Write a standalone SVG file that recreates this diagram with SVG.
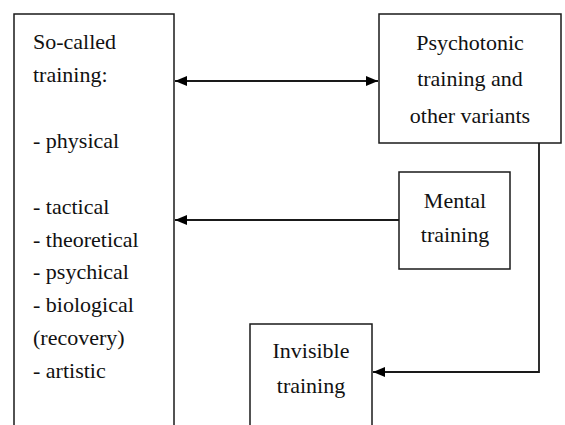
<svg xmlns="http://www.w3.org/2000/svg" width="565" height="425" viewBox="0 0 565 425">
<defs>
<style>
.box{fill:#fff;stroke:#1a1a1a;stroke-width:1.5}
.t{font-size:22px;fill:#111}
.c{text-anchor:middle}
.ln{fill:none;stroke:#1a1a1a;stroke-width:1.8}
</style>
<marker id="ah" viewBox="0 0 12 10" refX="12" refY="5" markerWidth="12" markerHeight="10" markerUnits="userSpaceOnUse" orient="auto-start-reverse">
<path d="M0,0 L12,5 L0,10 Z" fill="#000"/>
</marker>
</defs>
<rect width="565" height="425" fill="#fff"/>
<g font-family="Liberation Serif, Times New Roman, serif">
<g id="so-called">
<rect class="box" x="14" y="14" width="160" height="430"/>
<text class="t" x="33" y="49">So-called</text>
<text class="t" x="33" y="82">training:</text>
<text class="t" x="33" y="148">- physical</text>
<text class="t" x="33" y="214">- tactical</text>
<text class="t" x="33" y="247">- theoretical</text>
<text class="t" x="33" y="279">- psychical</text>
<text class="t" x="33" y="312">- biological</text>
<text class="t" x="33" y="345">(recovery)</text>
<text class="t" x="33" y="378">- artistic</text>
</g>
<g id="psychotonic">
<rect class="box" x="379" y="14" width="182" height="129"/>
<text class="t c" x="470" y="50">Psychotonic</text>
<text class="t c" x="470" y="86">training and</text>
<text class="t c" x="470" y="123">other variants</text>
</g>
<g id="mental">
<rect class="box" x="399" y="172" width="111" height="97"/>
<text class="t c" x="455" y="208">Mental</text>
<text class="t c" x="455" y="242">training</text>
</g>
<g id="invisible">
<rect class="box" x="250" y="324" width="122" height="120"/>
<text class="t c" x="311" y="358">Invisible</text>
<text class="t c" x="311" y="393">training</text>
</g>
</g>
<g id="connectors">
<line class="ln" x1="175" y1="81" x2="378" y2="81" marker-start="url(#ah)" marker-end="url(#ah)"/>
<line class="ln" x1="399" y1="220" x2="175" y2="220" marker-end="url(#ah)"/>
<polyline class="ln" points="539,143 539,372 373,372" marker-end="url(#ah)"/>
</g>
</svg>
